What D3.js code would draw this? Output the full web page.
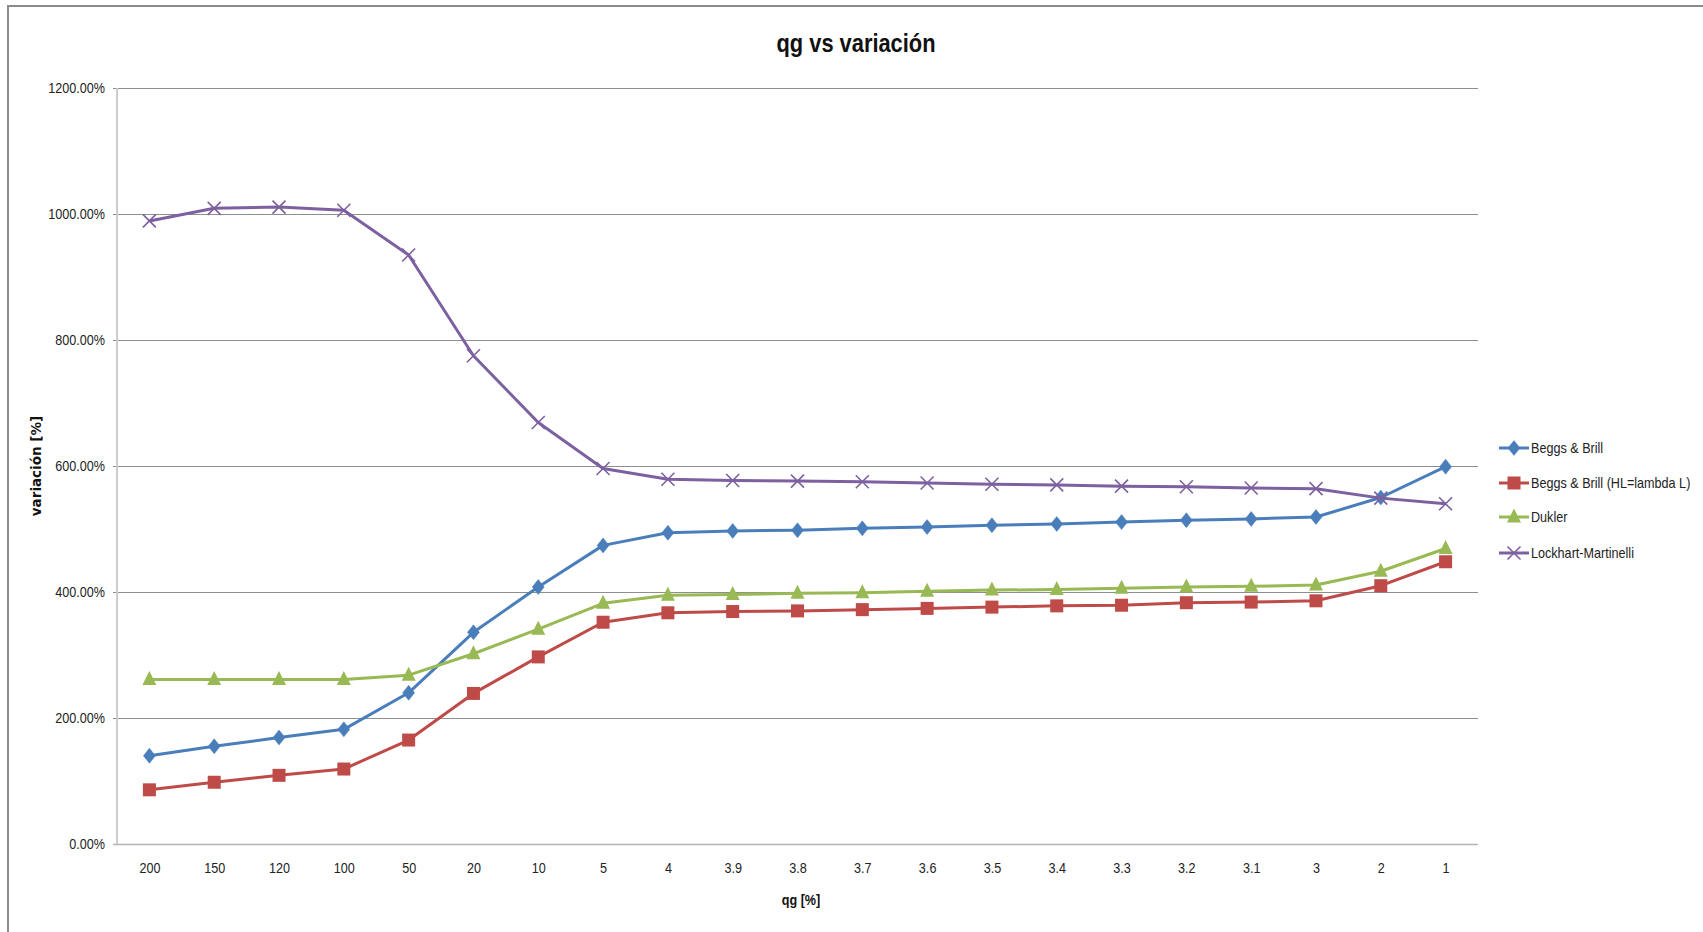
<!DOCTYPE html>
<html><head><meta charset="utf-8">
<script src="https://cdn.jsdelivr.net/npm/d3@7/dist/d3.min.js"></script>
<style>
html,body{margin:0;padding:0;background:#fff;}
svg{display:block;}
</style></head>
<body>
<svg id="chart" width="1703" height="932"></svg>
<script>
const categories = ["200","150","120","100","50","20","10","5","4","3.9","3.8","3.7","3.6","3.5","3.4","3.3","3.2","3.1","3","2","1"];
const beggsBrill   = [140,155,169,182,240,336,408,474,494,497,498,501,503,506,508,511,514,516,519,550,599];
const beggsBrillHL = [86,98,109,119,165,239,297,352,367,369,370,372,374,376,378,379,383,384,386,410,448];
const dukler       = [261,261,261,261,268,302,341,382,395,396,398,399,401,403,404,406,408,409,411,433,469];
const lockhart     = [989,1009,1011,1006,935,775,669,596,579,577,576,575,573,571,570,568,567,565,564,549,540];
const yTicks = [0,200,400,600,800,1000,1200];
const seriesNames = ["Beggs & Brill","Beggs & Brill (HL=lambda L)","Dukler","Lockhart-Martinelli"];

const series = [
  {name: seriesNames[0], values: beggsBrill,   color: "#4a7ebb", marker: "diamond"},
  {name: seriesNames[1], values: beggsBrillHL, color: "#be4b48", marker: "square"},
  {name: seriesNames[2], values: dukler,       color: "#98b954", marker: "triangle"},
  {name: seriesNames[3], values: lockhart,     color: "#7d60a0", marker: "x"}
];

const svg = d3.select("#chart");
const narrow = "'Liberation Sans',Arial,sans-serif";
// emulate a condensed face by compressing glyphs horizontally
function condense(sel, f) {
  sel.each(function() {
    const len = this.getComputedTextLength();
    d3.select(this).attr("textLength", len * f).attr("lengthAdjust", "spacingAndGlyphs");
  });
}

// outer frame
svg.append("rect").attr("x",8).attr("y",6).attr("width",1720).attr("height",960)
  .attr("fill","none").attr("stroke","#8c8c8c").attr("stroke-width",2);

const pL = 117, pR = 1478, pT = 88, pB = 844;
const x = d3.scalePoint().domain(categories).range([pL, pR]).padding(0.5);
const y = d3.scaleLinear().domain([0,1200]).range([pB, pT]);

// gridlines + y axis
const yAxis = d3.axisLeft(y).tickValues(yTicks).tickSize(-(pR-pL)).tickPadding(12)
  .tickFormat(d => d.toFixed(2) + "%");
const gy = svg.append("g").attr("transform", `translate(${pL},0)`).call(yAxis);
gy.select(".domain").remove();
gy.selectAll(".tick line").attr("stroke","#8e8e8e").attr("stroke-width",1).attr("x1",-4);
gy.selectAll(".tick").filter(d => d === 0).select("line").attr("stroke","#b4b4b4").attr("stroke-width",1.5);
gy.selectAll(".tick text").attr("font-family",narrow).attr("font-size",15).attr("fill","#222");
condense(gy.selectAll(".tick text"), 0.84);
svg.append("line").attr("x1",pL).attr("x2",pL).attr("y1",pT).attr("y2",pB)
  .attr("stroke","#cdcdcd").attr("stroke-width",2);

// x axis labels
const xAxis = d3.axisBottom(x).tickSize(0).tickPadding(18);
const gx = svg.append("g").attr("transform", `translate(0,${pB})`).call(xAxis);
gx.select(".domain").remove();
gx.selectAll(".tick text").attr("font-family",narrow).attr("font-size",15).attr("fill","#222");
condense(gx.selectAll(".tick text"), 0.84);

// titles
const t1 = svg.append("text").attr("x",856).attr("y",52).attr("text-anchor","middle")
  .attr("font-family",narrow).attr("font-weight","bold").attr("font-size",26).attr("fill","#111")
  .text("qg vs variación");
condense(t1, 0.84);
const t2 = svg.append("text").attr("x",801).attr("y",905).attr("text-anchor","middle")
  .attr("font-family",narrow).attr("font-weight","bold").attr("font-size",15).attr("fill","#111")
  .text("qg [%]");
condense(t2, 0.84);
svg.append("text").attr("transform","translate(41,466) rotate(-90)").attr("text-anchor","middle")
  .attr("font-family","'DejaVu Sans',sans-serif").attr("font-weight","bold").attr("font-size",13.5).attr("fill","#111")
  .text("variación [%]");

function drawMarker(g, type, color, cx, cy) {
  if (type === "diamond") {
    g.append("path").attr("d", `M${cx},${cy-7.5}L${cx+6},${cy}L${cx},${cy+7.5}L${cx-6},${cy}Z`)
      .attr("fill", color).attr("stroke", color).attr("stroke-width",0.5);
  } else if (type === "square") {
    g.append("rect").attr("x", cx-6.5).attr("y", cy-6.5).attr("width",13).attr("height",13)
      .attr("fill", color);
  } else if (type === "triangle") {
    g.append("path").attr("d", `M${cx},${cy-8.5}L${cx+7},${cy+5.5}L${cx-7},${cy+5.5}Z`)
      .attr("fill", color);
  } else {
    g.append("path").attr("d", `M${cx-6.5},${cy-6.5}L${cx+6.5},${cy+6.5}M${cx+6.5},${cy-6.5}L${cx-6.5},${cy+6.5}`)
      .attr("stroke", color).attr("stroke-width",1.6).attr("fill","none");
  }
}

const line = d3.line().x((d,i) => x(categories[i])).y(d => y(d));
series.forEach(s => {
  const g = svg.append("g");
  g.append("path").datum(s.values).attr("d", line).attr("fill","none")
    .attr("stroke", s.color).attr("stroke-width",3).attr("stroke-linejoin","round");
  s.values.forEach((v,i) => drawMarker(g, s.marker, s.color, x(categories[i]), y(v)));
});

// legend
const legY = [448, 483, 517, 553];
series.forEach((s, i) => {
  const g = svg.append("g");
  g.append("line").attr("x1",1499).attr("x2",1529).attr("y1",legY[i]).attr("y2",legY[i])
    .attr("stroke", s.color).attr("stroke-width",3);
  drawMarker(g, s.marker, s.color, 1514, legY[i]);
  const t = g.append("text").attr("x",1531).attr("y",legY[i]+5).attr("font-family",narrow).attr("font-size",15)
    .attr("fill","#222").text(s.name);
  condense(t, 0.84);
});
</script>
</body></html>
